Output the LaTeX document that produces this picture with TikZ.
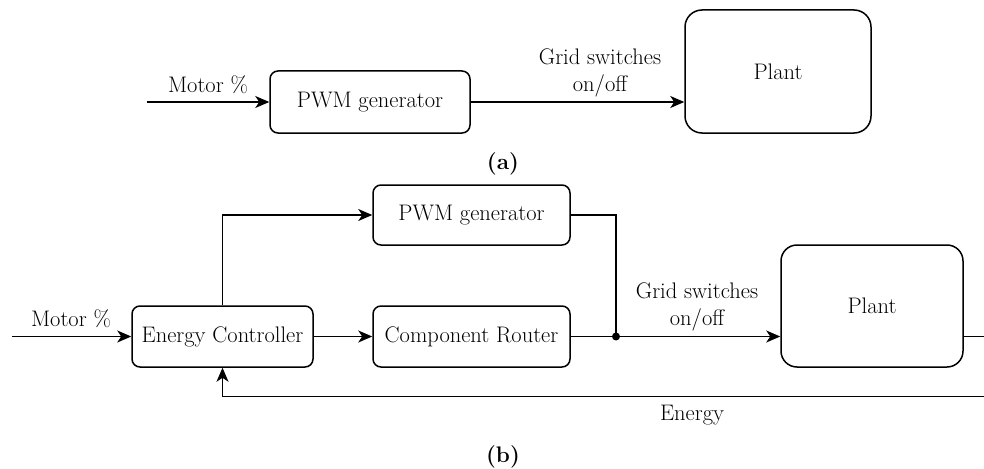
\documentclass[tikz,border=0pt]{standalone}
\usetikzlibrary{arrows.meta}
\tikzset{
  blk/.style={draw, line width=1.5pt, rounded corners=8pt, inner sep=0pt, minimum width=#1},
  blk/.default=200pt,
  conn/.style={line width=1.5pt, -{Stealth[length=14pt,width=12pt,inset=4pt]}},
  plain/.style={line width=1.5pt},
  lbl/.style={inner sep=0pt, align=center},
  txt/.style={font=\fontsize{22.5}{27}\selectfont}
}
\begin{document}
\begin{tikzpicture}[x=1pt, y=-1pt, txt]
\useasboundingbox (0,0) rectangle (984,468);
\clip (0,0) rectangle (984,468);
% (a)
\coordinate (ina) at (147,102);
\node[blk=200pt, minimum height=62pt] (pwma) at (370,102) {PWM generator};
\node[blk=186pt, minimum height=123pt, rounded corners=17pt] (planta) at (778,71.5) {Plant};
\draw[conn] (ina) -- (pwma.west);
\draw[conn] (pwma.east) -- (pwma.east -| planta.west);
\node[lbl] (motora) at (208,85) {Motor \%};
\node[lbl] (grida) at (600,73) {Grid switches\\on/off};
\node[lbl, font=\fontsize{22.5}{27}\selectfont\bfseries] (capa) at (503,164) {(a)};
% (b)
\coordinate (inb) at (12,336.5);
\node[blk=181pt, minimum height=61pt] (ec) at (222.5,336.5) {Energy Controller};
\node[blk=197pt, minimum height=60pt] (pwmb) at (471.5,215) {PWM generator};
\node[blk=197pt, minimum height=61pt] (cr) at (471.5,336.5) {Component Router};
\node[blk=182pt, minimum height=122pt, rounded corners=16pt] (plantb) at (872,306) {Plant};
\coordinate (junc) at (616,336.5);
\coordinate (fr1) at (1000,336.5);
\coordinate (fr2) at (1000,396.5);
\draw[conn] (inb) -- (ec.west);
\draw[conn] (ec.north) |- (pwmb.west);
\draw[conn] (ec.east) -- (cr.west);
\draw[plain] (pwmb.east) -| (junc);
\draw[plain] (cr.east) -- (junc);
\draw[conn] (junc) -- (junc -| plantb.west);
\fill (junc) circle (4pt);
\draw[conn] (plantb.east |- fr1) -- (fr1) -- (fr2) -| (ec.south);
\node[lbl] (motorb) at (71,319) {Motor \%};
\node[lbl] (gridb) at (697,307) {Grid switches\\on/off};
\node[lbl] (energy) at (692,415) {Energy};
\node[lbl, font=\fontsize{22.5}{27}\selectfont\bfseries] (capb) at (503,457) {(b)};
\end{tikzpicture}
\end{document}
